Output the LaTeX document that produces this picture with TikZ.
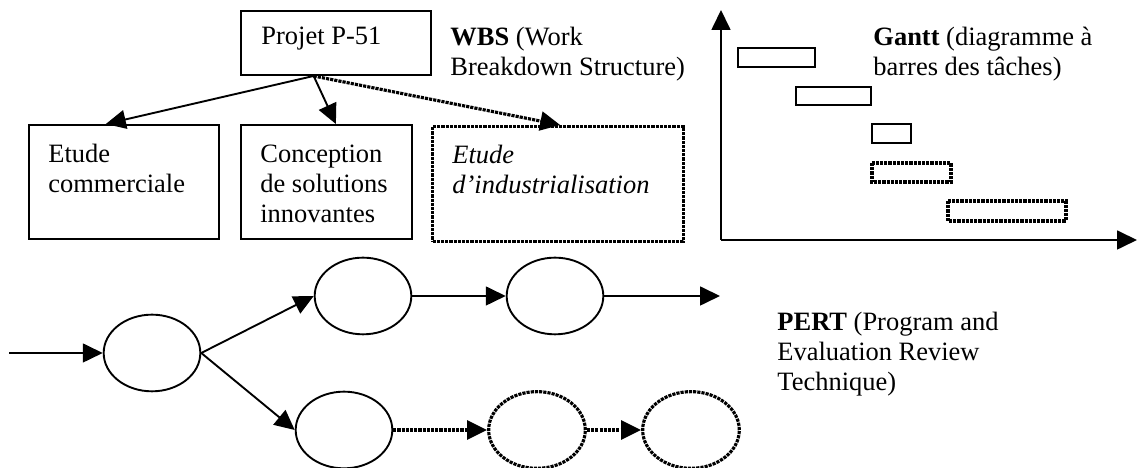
\documentclass[tikz,border=0pt]{standalone}
\usepackage{fontspec}
\setmainfont{Liberation Serif}
\usetikzlibrary{arrows.meta,positioning,shapes.geometric}

\tikzset{
	wbsbox/.style={draw, line width=0.9pt, inner sep=0pt, anchor=north west},
	boxtext/.style={inner sep=0pt, align=left, anchor=north west},
	pointille/.style={line width=1.5pt, dash pattern=on 1.5pt off 0.5pt},
	tache/.style={ellipse, draw, line width=0.9pt, minimum width=46pt, minimum height=36.5pt, inner sep=0pt},
	fleche/.style={-{Triangle[length=9.5pt,width=9pt]}, line width=0.9pt},
}

\begin{document}
\begin{tikzpicture}[x=0.476pt, y=-0.476pt, font=\fontsize{12.6}{14.3}\selectfont]
	\useasboundingbox (0,0) rectangle (1137,468);

	% WBS
	\node[wbsbox, minimum width=90.4pt, minimum height=30.5pt] (projet) at (240,10) {};
	\node[boxtext, below right=7.7pt and 10pt of projet.north west] (projettxt) {Projet P-51};
	\node[boxtext] (wbs) at (450,27) {\textbf{WBS} (Work\\Breakdown Structure)};

	\node[wbsbox, minimum width=90.4pt, minimum height=54.3pt] (commerciale) at (28,124) {};
	\node[wbsbox, minimum width=81.4pt, minimum height=54.3pt] (conception) at (240,124) {};
	\node[wbsbox, pointille, minimum width=119.5pt, minimum height=54.7pt] (indus) at (431,125) {};
	\node[boxtext, below right=9.6pt and 9.5pt of commerciale.north west] {Etude\\commerciale};
	\node[boxtext, below right=9.6pt and 9.5pt of conception.north west] {Conception\\de solutions\\innovantes};
	\node[boxtext, below right=9.2pt and 10pt of indus.north west,
		font=\fontsize{12.6}{14.3}\selectfont\itshape] {Etude\\d’industrialisation};

	\draw[fleche] (projet.-124) -- ([xshift=-8.6pt]commerciale.north);
	\draw[fleche] (projet.-124) -- ([xshift=4.5pt]conception.north);
	\draw[fleche, pointille] (projet.-124) -- ([xshift=1pt]indus.north);

	% Gantt
	\coordinate (origine) at (721,240);
	\coordinate (haut) at (721,10);
	\coordinate (fin) at (1137,240);
	\draw[fleche] (origine) -- (haut);
	\draw[fleche] (origine) -- (fin);
	\foreach \xa/\ya/\xb/\yb in {738/48/815/67, 796/87/871/105, 872/124/911/143}
		\draw[line width=0.8pt] (\xa,\ya) rectangle (\xb,\yb);
	\foreach \xa/\ya/\xb/\yb in {872/163/951/182, 948/201/1066/221}
		\draw[pointille] (\xa,\ya) rectangle (\xb,\yb);
	\node[boxtext] (gantt) at (873,27) {\textbf{Gantt} (diagramme à\\barres des tâches)};

	% PERT
	\node[tache] (e1) at (152,353) {};
	\node[tache] (e2) at (363,296) {};
	\node[tache] (e3) at (555,296) {};
	\node[tache] (e4) at (344,430) {};
	\node[tache, pointille] (e5) at (537,430) {};
	\node[tache, pointille] (e6) at (691,430) {};
	\coordinate (entree) at (9,353);
	\coordinate (sortie) at (720,296);
	\draw[fleche] (entree) -- (e1.west);
	\draw[fleche] (e1.east) -- (e2.west);
	\draw[fleche] (e1.east) -- (e4.west);
	\draw[fleche] (e2.east) -- (e3.west);
	\draw[fleche] (e3.east) -- (sortie);
	\draw[fleche, pointille] (e4.east) -- (e5.west);
	\draw[fleche, pointille] (e5.east) -- (e6.west);
	\node[boxtext] (pert) at (777,312) {\textbf{PERT} (Program and\\Evaluation Review\\Technique)};
\end{tikzpicture}
\end{document}
